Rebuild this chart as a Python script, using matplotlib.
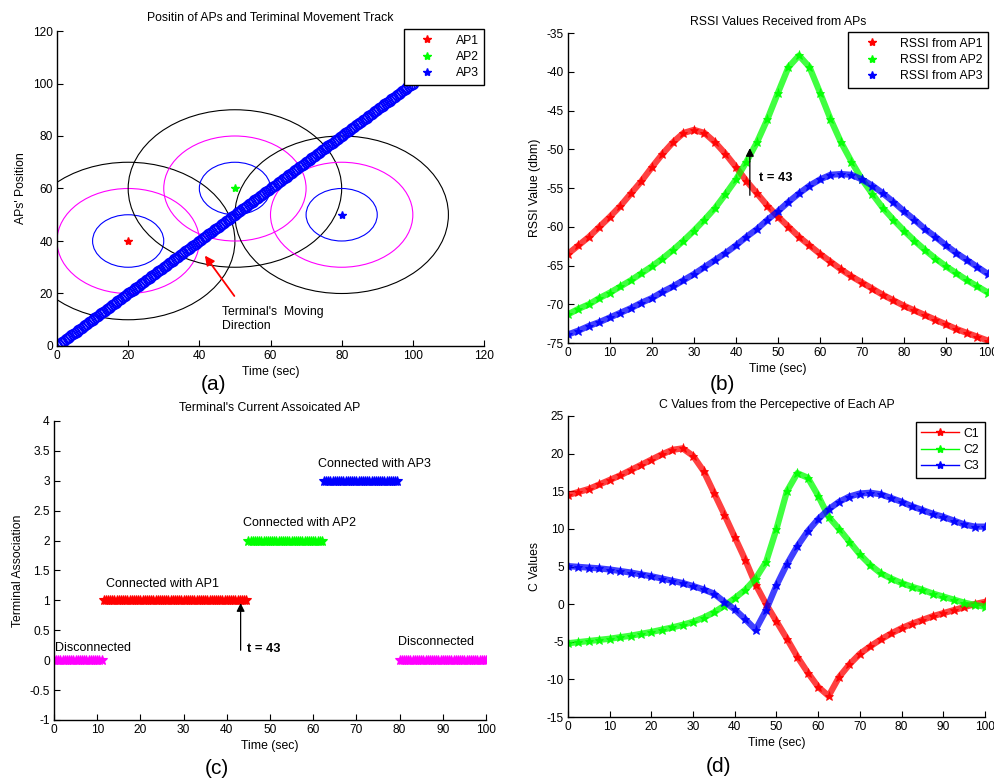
import numpy as np
import matplotlib
matplotlib.use('Agg')
import matplotlib.pyplot as plt
from matplotlib.patches import Circle
from matplotlib.lines import Line2D
from matplotlib.ticker import FuncFormatter

plt.rcParams['font.family'] = ['Liberation Sans', 'DejaVu Sans']

# MATLAB style colour letters
RED, GREEN, BLUE, MAGENTA, BLACK = '#ff0000', '#00ff00', '#0000ff', '#ff00ff', '#000000'

# ---- (a) AP positions and terminal track
ap_names = ['AP1', 'AP2', 'AP3']
ap_x = [20, 50, 80]
ap_y = [40, 60, 50]
ap_colors = [RED, GREEN, BLUE]
ring_radii = [10, 20, 30]
ring_colors = [BLUE, MAGENTA, BLACK]
track_start, track_end, track_step = 0, 100, 0.5

# ---- (b) RSSI values (dBm), sampled every 2.5 s
t_grid = np.arange(0, 100.1, 2.5)
rssi_ap1 = [-63.5, -62.4, -61.3, -60.0, -58.7, -57.3, -55.7, -54.1, -52.3, -50.6,
            -49.1, -47.9, -47.5, -47.9, -49.1, -50.6, -52.3, -54.1, -55.7, -57.3,
            -58.7, -60.0, -61.3, -62.4, -63.5, -64.5, -65.5, -66.4, -67.2, -68.0,
            -68.8, -69.5, -70.2, -70.8, -71.4, -72.0, -72.6, -73.2, -73.7, -74.2, -74.7]
rssi_ap2 = [-71.3, -70.6, -70.0, -69.2, -68.5, -67.7, -66.9, -66.0, -65.1, -64.1,
            -63.0, -61.8, -60.5, -59.1, -57.6, -55.8, -53.9, -51.6, -49.1, -46.1,
            -42.7, -39.4, -37.9, -39.4, -42.7, -46.1, -49.1, -51.6, -53.9, -55.8,
            -57.6, -59.1, -60.5, -61.8, -63.0, -64.1, -65.1, -66.0, -66.9, -67.7, -68.5]
rssi_ap3 = [-73.9, -73.4, -72.8, -72.3, -71.7, -71.1, -70.5, -69.8, -69.2, -68.4,
            -67.7, -66.9, -66.1, -65.2, -64.3, -63.4, -62.4, -61.3, -60.3, -59.1,
            -58.0, -56.8, -55.7, -54.7, -53.9, -53.3, -53.2, -53.3, -53.9, -54.7,
            -55.7, -56.8, -58.0, -59.1, -60.3, -61.3, -62.4, -63.4, -64.3, -65.2, -66.1]
rssi_labels = ['RSSI from AP1', 'RSSI from AP2', 'RSSI from AP3']

# ---- (c) association segments
assoc_start = [0, 11.5, 45, 62.5, 80]
assoc_end = [11, 44.5, 62, 79.5, 100]
assoc_level = [0, 1, 2, 3, 0]
assoc_colors = [MAGENTA, RED, GREEN, BLUE, MAGENTA]
assoc_text = ['Disconnected', 'Connected with AP1', 'Connected with AP2',
              'Connected with AP3', 'Disconnected']
assoc_text_x = [0.3, 12.0, 43.8, 61.2, 79.6]
assoc_text_y = [0.21, 1.27, 2.29, 3.28, 0.31]

# ---- (d) C values, sampled every 2.5 s
c1 = [14.5, 14.9, 15.3, 15.9, 16.5, 17.1, 17.8, 18.5, 19.2, 19.9,
      20.5, 20.7, 19.7, 17.7, 14.8, 11.9, 8.9, 5.9, 2.6, 0.0,
      -2.3, -4.6, -7.0, -9.1, -11.0, -12.2, -9.7, -8.0, -6.6, -5.6,
      -4.7, -3.9, -3.2, -2.6, -2.1, -1.6, -1.2, -0.8, -0.4, 0.0, 0.3]
c2 = [-5.2, -5.05, -4.9, -4.75, -4.6, -4.4, -4.2, -3.95, -3.7, -3.4,
      -3.1, -2.75, -2.35, -1.8, -1.1, -0.2, 0.8, 1.9, 3.4, 5.6,
      10.0, 15.0, 17.4, 16.8, 14.4, 11.6, 10.0, 8.3, 6.6, 5.2,
      4.1, 3.4, 2.8, 2.3, 1.9, 1.4, 1.0, 0.6, 0.2, -0.1, -0.35]
c3 = [5.05, 4.95, 4.85, 4.75, 4.6, 4.4, 4.2, 3.95, 3.7, 3.4,
      3.1, 2.8, 2.4, 1.95, 1.4, 0.3, -0.7, -2.0, -3.4, -0.8,
      2.5, 5.3, 7.7, 9.7, 11.3, 12.6, 13.6, 14.3, 14.7, 14.8,
      14.6, 14.1, 13.6, 13.0, 12.5, 12.0, 11.6, 11.1, 10.6, 10.3, 10.3]
c_labels = ['C1', 'C2', 'C3']

TICK = 8.6
TXT = 8.8


def style(ax):
    ax.spines['top'].set_visible(False)
    ax.spines['right'].set_visible(False)
    for s in ['left', 'bottom']:
        ax.spines[s].set_linewidth(1.0)
    ax.tick_params(direction='in', length=4, width=0.8, pad=3, labelsize=TICK)
    fmt = FuncFormatter(lambda v, p: '%g' % v)
    ax.xaxis.set_major_formatter(fmt)
    ax.yaxis.set_major_formatter(fmt)


def legend(ax, handles, labels, anchor, hl, htp):
    leg = ax.legend(handles, labels, loc='upper right', bbox_to_anchor=anchor,
                    borderaxespad=0, fancybox=False, edgecolor='k', framealpha=1,
                    fontsize=TXT, handlelength=hl, handletextpad=htp,
                    labelspacing=0.35, borderpad=0.45)
    leg.get_frame().set_linewidth(1.0)


def fuzzy(ax, x, y, c):
    # dense star markers in the original look like a thick soft band
    ax.plot(x, y, '-', color=c, lw=4.5, alpha=0.75, solid_capstyle='round')
    ax.plot(x, y, '*', color=c, ms=6.5, mew=0.6, alpha=0.9)


fig = plt.figure(figsize=(9.95, 7.82), dpi=100)

ax_a = fig.add_axes([57/995, 1-346/782, 427/995, 315/782])
ax_b = fig.add_axes([568/995, 1-343/782, 420/995, 310/782])
ax_c = fig.add_axes([54/995, 1-720/782, 432/995, 299/782])
ax_d = fig.add_axes([568/995, 1-717/782, 417/995, 301/782])

# (a)
for x, y in zip(ap_x, ap_y):
    for r, rc in zip(ring_radii, ring_colors):
        ax_a.add_patch(Circle((x, y), r, fill=False, edgecolor=rc, lw=0.8))
track = np.arange(track_start, track_end + track_step / 2, track_step)
ax_a.plot(track, track, 'o', color=BLUE, ms=7, mfc='none', mew=1.1)
for x, y, c in zip(ap_x, ap_y, ap_colors):
    ax_a.plot(x, y, '*', color=c, ms=6)
ax_a.annotate('', xy=(41.1, 35.3), xytext=(50.3, 18.2),
              arrowprops=dict(arrowstyle='-|>', color=RED, lw=1.3, mutation_scale=14))
ax_a.text(46.3, 15.2, "Terminal's  Moving\nDirection", fontsize=TXT, va='top', ha='left',
          linespacing=1.25)
ax_a.set_xlim(0, 120)
ax_a.set_ylim(0, 120)
ax_a.set_xticks(range(0, 121, 20))
ax_a.set_yticks(range(0, 121, 20))
style(ax_a)
ax_a.set_title('Positin of APs and Teriminal Movement Track', fontsize=TXT, pad=7)
ax_a.set_xlabel('Time (sec)', fontsize=TXT, labelpad=3)
ax_a.set_ylabel("APs' Position", fontsize=TXT, labelpad=4)
legend(ax_a, [Line2D([], [], color=c, marker='*', ls='None', ms=6) for c in ap_colors],
       ap_names, (1.0, 1.006), 3.0, 0.8)

# (b)
for vals, c in zip([rssi_ap1, rssi_ap2, rssi_ap3], ap_colors):
    fuzzy(ax_b, t_grid, vals, c)
ax_b.annotate('', xy=(43.3, -49.5), xytext=(43.3, -56.3),
              arrowprops=dict(arrowstyle='-|>', color='k', lw=0.9, mutation_scale=12))
ax_b.text(45.5, -53.7, 't = 43', fontsize=TXT + 0.5, fontweight='bold', va='center')
ax_b.set_xlim(0, 100)
ax_b.set_ylim(-75, -35)
ax_b.set_xticks(range(0, 101, 10))
ax_b.set_yticks(range(-75, -34, 5))
style(ax_b)
ax_b.set_title('RSSI Values Received from APs', fontsize=TXT, pad=6)
ax_b.set_xlabel('Time (sec)', fontsize=TXT, labelpad=3)
ax_b.set_ylabel('RSSI Value (dbm)', fontsize=TXT, labelpad=4)
legend(ax_b, [Line2D([], [], color=c, marker='*', ls='None', ms=6) for c in ap_colors],
       rssi_labels, (1.0, 1.003), 3.0, 0.8)

# (c)
for s, e, lv, c in zip(assoc_start, assoc_end, assoc_level, assoc_colors):
    tt = np.arange(s, e + 0.25, 0.5)
    ax_c.plot(tt, np.full_like(tt, lv), '*', color=c, ms=7, mew=0.8)
for txt, x, y in zip(assoc_text, assoc_text_x, assoc_text_y):
    ax_c.text(x, y, txt, fontsize=TXT + 0.2, va='center', ha='left')
ax_c.annotate('', xy=(43.2, 1.0), xytext=(43.2, 0.12),
              arrowprops=dict(arrowstyle='-|>', color='k', lw=0.9, mutation_scale=12))
ax_c.text(44.6, 0.19, 't = 43', fontsize=TXT + 0.5, fontweight='bold', va='center')
ax_c.set_xlim(0, 100)
ax_c.set_ylim(-1, 4)
ax_c.set_xticks(range(0, 101, 10))
ax_c.set_yticks(np.arange(-1, 4.01, 0.5))
style(ax_c)
ax_c.set_title("Terminal's Current Assoicated AP", fontsize=TXT, pad=7)
ax_c.set_xlabel('Time (sec)', fontsize=TXT, labelpad=3)
ax_c.set_ylabel('Terminal Association', fontsize=TXT, labelpad=4)

# (d)
for vals, c in zip([c1, c2, c3], ap_colors):
    fuzzy(ax_d, t_grid, vals, c)
ax_d.set_xlim(0, 100)
ax_d.set_ylim(-15, 25)
ax_d.set_xticks(range(0, 101, 10))
ax_d.set_yticks(range(-15, 26, 5))
style(ax_d)
ax_d.set_title('C Values from the Percepective of Each AP', fontsize=TXT, pad=6)
ax_d.set_xlabel('Time (sec)', fontsize=TXT, labelpad=3)
ax_d.set_ylabel('C Values', fontsize=TXT, labelpad=4)
legend(ax_d, [Line2D([], [], color=c, marker='*', ls='-', lw=1.0, ms=6) for c in ap_colors],
       c_labels, (1.0, 0.98), 3.1, 0.4)

for lbl, x, y in [('(a)', 214, 385), ('(b)', 722, 385), ('(c)', 217, 769), ('(d)', 719, 767)]:
    fig.text(x / 995, 1 - y / 782, lbl, fontsize=15, ha='center', va='center')

fig.savefig('out.png', dpi=100)
